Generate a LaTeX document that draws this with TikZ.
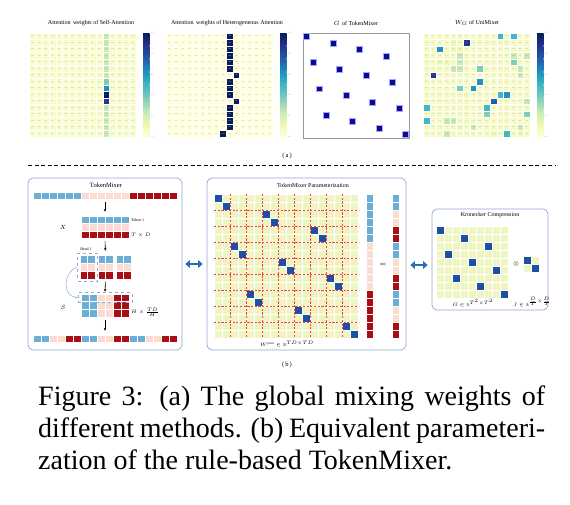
\documentclass[tikz,border=0pt]{standalone}
\usepackage{amsmath,amssymb}
\usepackage{fontspec}
\setmainfont{Liberation Serif}
\usetikzlibrary{arrows.meta,positioning,calc}

\definecolor{tok0}{HTML}{6BAED6}
\definecolor{tok1}{HTML}{FCDCD2}
\definecolor{tok2}{HTML}{A50F15}
\definecolor{matyel}{HTML}{EEF4C2}
\definecolor{matblue}{HTML}{1F4FA0}
\definecolor{boxline}{HTML}{8DA8D4}
\definecolor{arrblue}{HTML}{2A6DB2}
\definecolor{gnavy}{HTML}{0C0C8A}
\definecolor{ylgn0}{HTML}{FFFFD9}
\definecolor{ylgn1}{HTML}{EDF8B1}
\definecolor{ylgn2}{HTML}{C7E9B4}
\definecolor{ylgn3}{HTML}{7FCDBB}
\definecolor{ylgn4}{HTML}{41B6C4}
\definecolor{ylgn5}{HTML}{1D91C0}
\definecolor{ylgn6}{HTML}{225EA8}
\definecolor{ylgn7}{HTML}{253494}
\definecolor{ylgn8}{HTML}{081D58}

\begin{document}
\begin{tikzpicture}[x=1pt, y=-1pt,
    ttl/.style={font=\fontsize{6}{7}\selectfont},
    hcell/.style={draw=white, line width=0.3pt, minimum width=6.7pt, minimum height=6.5pt, inner sep=0pt, font=\fontsize{1.5}{1.5}\selectfont, text=black!45},
    hdark/.style={hcell, draw=white, line width=0.6pt, text=white!80},
    ticklab/.style={anchor=west, inner sep=0pt, font=\fontsize{1.8}{2}\selectfont, text=black!50},
    tcell/.style={draw=white, line width=0.6pt},
    block/.style={inner sep=0pt},
    panel/.style={draw=boxline, line width=0.7pt, rounded corners=5pt, inner sep=0pt},
    dashbox/.style={draw=boxline, dashed, line width=0.5pt, inner sep=0pt},
    lbl/.style={font=\fontsize{4}{5}\selectfont, inner sep=0pt},
    sub/.style={font=\fontsize{6.5}{7}\selectfont},
    capline/.style={anchor=base west, inner sep=0pt, font=\fontsize{28}{32}\selectfont},
    arr/.style={-{Stealth[length=3pt,width=2.5pt]}, line width=0.6pt},
    dbl/.style={{Triangle[length=4.5pt,width=7.5pt]}-{Triangle[length=4.5pt,width=7.5pt]}, line width=2.5pt, arrblue}
]
\useasboundingbox (0,0) rectangle (570,505);

% ---------- (a) global mixing weights ----------
\node[ttl] (t1) at (91,23) {Attention\, weights of Self-Attention};
\node[ttl] (t2) at (227,23) {Attention\, weights of Heterogeneous Attention};
\node[ttl] (t3) at (356,23) {$G$\, of TokenMixer};
\node[ttl] (t4) at (477,23) {$W_G$ of UniMixer};

% self-attention
\foreach \r in {0,...,15}
  \foreach \c in {0,...,15}
    \node[hcell, fill=ylgn0!60!ylgn1] (pa-\r-\c) at ({29+6.7*\c+3.35},{33+6.5*\r+3.25}) {0.05};
\foreach \r/\col in {0/ylgn2,1/ylgn2,2/ylgn2,3/ylgn2,4/ylgn2,5/ylgn2,6/ylgn2,7/ylgn3,8/ylgn5,9/ylgn8,10/ylgn7,11/ylgn2,12/ylgn2,13/ylgn2,14/ylgn2,15/ylgn2}
  \node[hcell, fill=\col] (pah-\r) at ({29+6.7*11+3.35},{33+6.5*\r+3.25}) {0.12};

% heterogeneous attention
\foreach \r in {0,...,15}
  \foreach \c in {0,...,15}
    \node[hcell, fill=ylgn0] (pb-\r-\c) at ({166+6.7*\c+3.35},{33+6.5*\r+3.25}) {0.00};
\foreach \r/\c in {0/9,1/9,2/9,3/9,4/9,5/9,6/10,7/9,8/9,9/9,10/10,11/9,12/9,13/9,14/9,15/8}
  \node[hdark, fill=ylgn8] (pbh-\r) at ({166+6.7*\c+3.35},{33+6.5*\r+3.25}) {1.00};

% G of TokenMixer
\node[draw=black!40, line width=0.8pt, minimum width=106pt, minimum height=105pt, inner sep=0pt] (gbox) at (356,85.5) {};
\foreach \r in {0,...,15}{
  \pgfmathtruncatemacro{\c}{mod(\r,4)*4+int(\r/4)}
  \fill[gnavy, draw=blue!35, line width=0.6pt] ({303+6.625*\c+0.4},{33+6.56*\r+0.4}) rectangle ++(5.9,5.9);
}

% W_G of UniMixer
\foreach \r in {0,...,15}
  \foreach \c in {0,...,15}
    \node[hcell, fill=ylgn0!50!ylgn1] (pd-\r-\c) at ({423+6.7*\c+3.35},{33+6.5*\r+3.25}) {0.01};
\foreach \r/\c/\col in {0/11/ylgn4,0/13/ylgn4,1/4/ylgn1,1/6/ylgn7,2/2/ylgn5,2/4/ylgn1,2/5/ylgn1,
    3/5/ylgn2,3/13/ylgn2,3/15/ylgn2,4/2/ylgn1,4/3/ylgn1,4/5/ylgn2,4/13/ylgn3,
    5/4/ylgn2,5/5/ylgn2,5/8/ylgn3,5/14/ylgn2,6/1/ylgn7,6/14/ylgn2,7/8/ylgn5,
    8/5/ylgn3,8/7/ylgn5,9/11/ylgn4,9/12/ylgn5,10/10/ylgn6,10/15/ylgn2,
    11/0/ylgn4,11/9/ylgn4,12/9/ylgn3,12/15/ylgn3,13/0/ylgn4,13/3/ylgn2,13/4/ylgn2,
    14/5/ylgn1,14/7/ylgn2,14/14/ylgn2,15/3/ylgn2,15/10/ylgn1,15/12/ylgn4,15/14/ylgn1}
  \node[hcell, fill=\col] (pdh-\r-\c) at ({423+6.7*\c+3.35},{33+6.5*\r+3.25}) {0.20};

% colour bars
\foreach \bx in {143,280,537}{
  \foreach \k in {0,...,7}{
    \pgfmathtruncatemacro{\kk}{\k+1}
    \shade[bottom color=ylgn\k, top color=ylgn\kk] (\bx,{137-13*\k}) rectangle ({\bx+6.5},{137-13*(\k+1)+0.3});
  }
  \foreach \t/\v in {0/0.0,1/0.2,2/0.4,3/0.6,4/0.8,5/1.0}
    \node[ticklab] (cb-\bx-\t) at ({\bx+8},{137-20.8*\t}) {\v};
}

\node[sub] (capa) at (287,155.5) {(\,a\,)};
\draw[dashed, dash pattern=on 4pt off 2.5pt, line width=0.6pt] (28,165) coordinate (sepl) -- (555,165) coordinate (sepr);

% ---------- (b) TokenMixer ----------
\node[panel, minimum width=154pt, minimum height=172pt] (leftbox) at (105,264) {};
\node[ttl, font=\fontsize{6.5}{7}\selectfont] (ltitle) at (106,185) {TokenMixer};

\node[block, minimum width=144pt, minimum height=7.5pt] (tokin) at (105,195.75) {};
\foreach \i in {0,...,17}{
  \pgfmathtruncatemacro{\g}{int(\i/6)}
  \fill[tcell, fill=tok\g] ({33+8*\i},192) rectangle ++(8,7.5);
}

\node[block, minimum width=48pt, minimum height=22.5pt] (xmat) at (105,227.25) {};
\foreach \r in {0,1,2}
  \foreach \c in {0,...,5}
    \fill[tcell, fill=tok\r] ({81+8*\c},{216+7.5*\r}) rectangle ++(8,7.5);
\node[font=\fontsize{6}{7}\selectfont] (xlab) at (63,227) {$X$};
\node[lbl, anchor=west] (tok1) at (131,219.7) {Token 1};
\node[lbl, anchor=west] (tdlab) at (131,234.8) {$T\times D$};

\node[block, minimum width=51pt, minimum height=24pt] (heads) at (105.5,267) {};
\foreach \hx in {80,98,116}
  \foreach \r in {0,1,2}
    \foreach \c in {0,1}
      \fill[tcell, fill=tok\r] ({\hx+7.5*\c},{255+8*\r}) rectangle ++(7.5,8);
\node[dashbox, minimum width=20pt, minimum height=28pt] (head1) at (87.5,267) {};
\node[lbl] (h1lab) at (86,249.5) {Head 1};

\node[block, minimum width=48pt, minimum height=23pt] (smat) at (105,305.5) {};
\foreach \r in {0,1,2}{
  \foreach \c in {0,...,5}{
    \pgfmathtruncatemacro{\g}{int(\c/2)}
    \fill[tcell, fill=tok\g] ({81+8*\c},{294+7.7*\r}) rectangle ++(8,7.7);
  }
}
\node[dashbox, minimum width=54pt, minimum height=10pt] (srow) at (105,297.7) {};
\node[font=\fontsize{6}{7}\selectfont] (slab) at (63,307) {$S$};
\node[lbl, anchor=west] (hlab) at (131,312) {$H\times\frac{TD}{H}$};

\node[block, minimum width=144pt, minimum height=7.5pt] (tokout) at (105,338.75) {};
\foreach \i in {0,...,17}{
  \pgfmathtruncatemacro{\g}{mod(int(\i/2),3)}
  \fill[tcell, fill=tok\g] ({33+8*\i},335) rectangle ++(8,7.5);
}

\draw[arr, shorten <=2.5pt, shorten >=4pt] (tokin.south) -- (xmat.north);
\draw[arr, shorten <=2.5pt, shorten >=4pt] (xmat.south) -- (heads.north);
\draw[arr, shorten <=2.5pt, shorten >=2pt] (heads.south) -- (smat.north);
\draw[arr, shorten <=2.5pt, shorten >=4pt] (smat.south) -- (tokout.north);
\draw[-{Stealth[length=2.5pt,width=2.2pt]}, boxline, line width=0.5pt] (head1.west) .. controls (63,272) and (62,296) .. (srow.west);

% ---------- (b) parameterization ----------
\node[panel, minimum width=199pt, minimum height=172pt] (midbox) at (306.5,264) {};
\node[ttl] (mtitle) at (313,185) {TokenMixer Parameterization};
\node[block, minimum width=144pt, minimum height=144pt] (wperm) at (286,266) {};
\foreach \r in {0,...,17}
  \foreach \c in {0,...,17}
    \fill[tcell, fill=matyel] ({214+8*\c},{194+8*\r}) rectangle ++(8,8);
\foreach \r/\c in {0/0,1/1,2/6,3/7,4/12,5/13,6/2,7/3,8/8,9/9,10/14,11/15,12/4,13/5,14/10,15/11,16/16,17/17}
  \fill[tcell, fill=matblue] ({214+8*\c},{194+8*\r}) rectangle ++(8,8);
\foreach \k in {1,...,8}{
  \draw[red!75, dashed, dash pattern=on 2.2pt off 1.5pt, line width=0.5pt] ({214+16*\k},194) -- ({214+16*\k},338);
  \draw[red!75, dashed, dash pattern=on 2.2pt off 1.5pt, line width=0.5pt] (214,{194+16*\k}) -- (358,{194+16*\k});
}
\node[block, minimum width=7pt, minimum height=144pt] (vin) at (370,266) {};
\foreach \i in {0,...,17}{
  \pgfmathtruncatemacro{\g}{int(\i/6)}
  \fill[tcell, fill=tok\g] (366.5,{194+8*\i}) rectangle ++(7,8);
}
\node[font=\fontsize{8}{9}\selectfont] (eq) at (383,265) {$=$};
\node[block, minimum width=7pt, minimum height=144pt] (vout) at (396,266) {};
\foreach \i in {0,...,17}{
  \pgfmathtruncatemacro{\g}{mod(int(\i/2),3)}
  \fill[tcell, fill=tok\g] (392.5,{194+8*\i}) rectangle ++(7,8);
}
\node[lbl, font=\fontsize{4.5}{5}\selectfont] (wlab) at (287,344.5) {$W^{\mathrm{perm}}\in\mathbb{R}^{TD\times TD}$};

% ---------- (b) Kronecker ----------
\node[panel, minimum width=116pt, minimum height=101pt] (rightbox) at (490,259.5) {};
\node[ttl] (rtitle) at (490,215) {Kronecker Compression};
\node[block, minimum width=72pt, minimum height=72pt] (gmat) at (472,262) {};
\foreach \r in {0,...,8}
  \foreach \c in {0,...,8}
    \fill[tcell, fill=matyel] ({436+8*\c},{226+8*\r}) rectangle ++(8,8);
\foreach \r/\c in {0/0,1/3,2/6,3/1,4/4,5/7,6/2,7/5,8/8}
  \fill[tcell, fill=matblue] ({436+8*\c},{226+8*\r}) rectangle ++(8,8);
\node[font=\fontsize{6}{7}\selectfont] (otimes) at (516,264) {$\otimes$};
\node[block, minimum width=16pt, minimum height=16pt] (jmat) at (531,264) {};
\foreach \r/\c/\col in {0/0/matblue,0/1/matyel,1/0/matyel,1/1/matblue}
  \fill[tcell, fill=\col] ({523+8*\c},{256+8*\r}) rectangle ++(8,8);
\node[lbl] (glab) at (473,303) {$G\in\mathbb{R}^{T^2\times T^2}$};
\node[lbl] (jlab) at (532,302) {$J\in\mathbb{R}^{\frac{D}{T}\times\frac{D}{T}}$};

\draw[dbl, shorten <=3pt, shorten >=4pt] (leftbox.east) -- (midbox.west);
\draw[dbl, shorten <=4pt, shorten >=4pt] ([yshift=-1pt]midbox.east) -- ([yshift=-1pt]midbox.east -| rightbox.west);

\node[sub] (capb) at (287,365) {(\,b\,)};

% ---------- caption ----------
\node[capline] (cap1) at (38,405) {\spaceskip=0.25em plus 0.4em minus 0.1em\hbox to 507pt{Figure 3: (a) The global mixing weights of}};
\node[capline] (cap2) at (38,437) {\spaceskip=0.25em plus 0.4em minus 0.1em\hbox to 507pt{different methods. (b) Equivalent parameteri-}};
\node[capline] (cap3) at (38,469) {zation of the rule-based TokenMixer.};
\end{tikzpicture}
\end{document}
